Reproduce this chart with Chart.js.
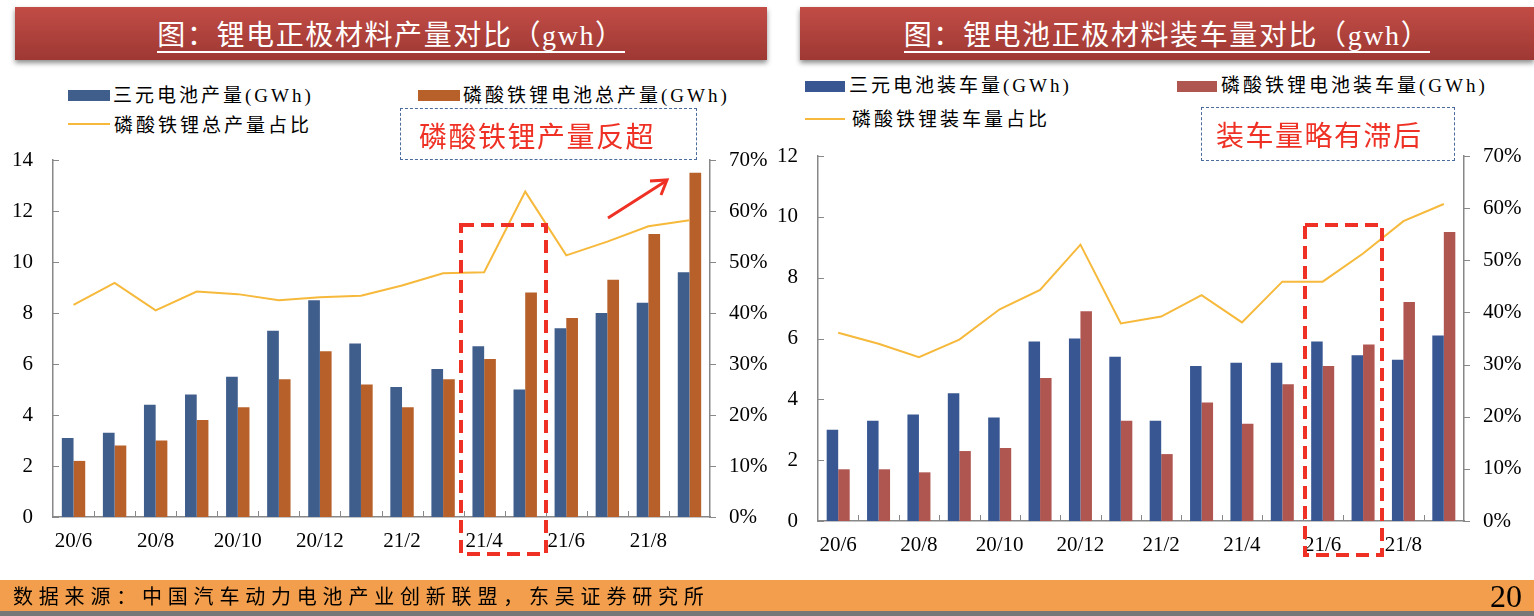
<!DOCTYPE html>
<html>
<head>
<meta charset="utf-8">
<script src="https://cdn.jsdelivr.net/npm/chart.js@4.4.0/dist/chart.umd.min.js"></script>
<style>
  html, body { margin: 0; padding: 0; background: #fff; }
  body { width: 1534px; height: 616px; position: relative; overflow: hidden;
         font-family: "Liberation Serif", "Noto Sans CJK SC", serif; }
  .banner { position: absolute; top: 7px; height: 53px;
            background: linear-gradient(#c24c46, #9e3833);
            box-shadow: 0 3px 5px rgba(0,0,0,0.45); }
  .banner span { position: absolute; left: 0; right: 0; top: 14px; text-align: center;
                 color: #fff; font-size: 28px; line-height: 29px; letter-spacing: 1.6px; }
  .banner span i { font-style: normal; border-bottom: 2px solid #fff; padding-bottom: 0px; }
  .lg { position: absolute; font-size: 19px; letter-spacing: 3px; color: #000; line-height: 20px; white-space: nowrap; }
  .sw { position: absolute; height: 11px; width: 42px; }
  .ln { position: absolute; height: 2px; width: 42px; background: #f6b93b; }
  .note { position: absolute; border: 1.5px dashed #4a6b9b; color: #ee3124;
          font-size: 28px; letter-spacing: 1.5px; line-height: 52px; box-sizing: border-box;
          font-family: "Noto Sans CJK SC", sans-serif; }
  canvas { position: absolute; }
  #footer { position: absolute; left: 0; top: 580px; width: 1534px; height: 31px; background: #f29e4c; }
  #footer2 { position: absolute; left: 0; top: 611px; width: 1534px; height: 5px; background: #777; }
  #src { position: absolute; left: 13px; top: 584px; font-size: 20px; letter-spacing: 5.8px;
         font-family: "Noto Sans CJK SC", sans-serif; line-height: 24px; }
  #page { position: absolute; right: 12px; top: 578px; font-size: 32px; line-height: 36px; }
</style>
</head>
<body>

<div class="banner" style="left:15px; width:752px;"><span><i>图：锂电正极材料产量对比（gwh）</i></span></div>
<div class="banner" style="left:800px; width:734px;"><span><i>图：锂电池正极材料装车量对比（gwh）</i></span></div>

<!-- 左图图例 -->
<div class="sw" style="left:68px; top:90px; background:#405e8c;"></div>
<div class="lg" style="left:113px; top:86px;">三元电池产量(GWh)</div>
<div class="sw" style="left:418px; top:90px; background:#b8602a;"></div>
<div class="lg" style="left:463px; top:86px;">磷酸铁锂电池总产量(GWh)</div>
<div class="ln" style="left:68px; top:123px;"></div>
<div class="lg" style="left:114px; top:116px;">磷酸铁锂总产量占比</div>

<!-- 右图图例 -->
<div class="sw" style="left:805px; top:81px; width:40px; background:#375692;"></div>
<div class="lg" style="left:849px; top:76px;">三元电池装车量(GWh)</div>
<div class="sw" style="left:1177px; top:81px; width:40px; background:#b05650;"></div>
<div class="lg" style="left:1221px; top:76px;">磷酸铁锂电池装车量(GWh)</div>
<div class="ln" style="left:805px; top:118px; width:40px;"></div>
<div class="lg" style="left:852px; top:110px;">磷酸铁锂装车量占比</div>

<canvas id="left" width="770" height="420" style="left:0; top:140px;"></canvas>
<canvas id="right" width="764" height="420" style="left:770px; top:140px;"></canvas>

<div class="note" style="left:400px; top:108px; width:297px; height:52px; padding-left:18px;">磷酸铁锂产量反超</div>
<div class="note" style="left:1201px; top:107px; width:254px; height:54px; padding-left:14px;">装车量略有滞后</div>

<svg width="1534" height="616" style="position:absolute; left:0; top:0; pointer-events:none;">
  <rect x="461" y="225" width="85" height="329" fill="none" stroke="#ee3124" stroke-width="4" stroke-dasharray="13 7"/>
  <rect x="1305" y="225" width="77" height="330" fill="none" stroke="#ee3124" stroke-width="4" stroke-dasharray="13 7"/>
  <line x1="608" y1="218" x2="666" y2="181" stroke="#ee3124" stroke-width="3"/>
  <polyline points="650,181 667,180 661,195" fill="none" stroke="#ee3124" stroke-width="3"/>
</svg>

<div id="footer"></div>
<div id="footer2"></div>
<div id="src">数据来源：中国汽车动力电池产业创新联盟，东吴证券研究所</div>
<div id="page">20</div>

<script>
// 月份
const categories = ['20/6', '20/7', '20/8', '20/9', '20/10', '20/11', '20/12', '21/1',
                    '21/2', '21/3', '21/4', '21/5', '21/6', '21/7', '21/8', '21/9'];

// 左图：产量 (GWh) 和占比 (%)
const prodNCM = [3.1, 3.3, 4.4, 4.8, 5.5, 7.3, 8.5, 6.8, 5.1, 5.8, 6.7, 5.0, 7.4, 8.0, 8.4, 9.6];
const prodLFP = [2.2, 2.8, 3.0, 3.8, 4.3, 5.4, 6.5, 5.2, 4.3, 5.4, 6.2, 8.8, 7.8, 9.3, 11.1, 13.5];
const prodLFPShare = [41.6, 45.9, 40.5, 44.2, 43.7, 42.5, 43.1, 43.4, 45.4, 47.8, 48.0, 63.8, 51.3, 54.0, 57.0, 58.2];

// 右图：装车量 (GWh) 和占比 (%)
const instNCM = [3.0, 3.3, 3.5, 4.2, 3.4, 5.9, 6.0, 5.4, 3.3, 5.1, 5.2, 5.2, 5.9, 5.45, 5.3, 6.1];
const instLFP = [1.7, 1.7, 1.6, 2.3, 2.4, 4.7, 6.9, 3.3, 2.2, 3.9, 3.2, 4.5, 5.1, 5.8, 7.2, 9.5];
const instLFPShare = [36.1, 34.0, 31.4, 34.8, 40.6, 44.3, 53.0, 37.9, 39.2, 43.3, 38.1, 45.9, 45.9, 51.3, 57.5, 60.8];

// 坐标轴刻度
const leftAxisMax = [14, 12];
const leftAxisStep = 2;
const pctAxisMax = 70;
const pctAxisStep = 10;

const tickFont = { family: 'Liberation Serif', size: 21 };
const axisColor = '#888';

// 刻度线：左轴和X轴朝内，右轴朝外
const tickMarks = {
  id: 'tickMarks',
  afterDraw(chart) {
    const { ctx, chartArea: a, scales } = chart;
    ctx.save();
    ctx.strokeStyle = axisColor;
    ctx.lineWidth = 1;
    ctx.beginPath();
    const x = scales.x;
    const step = x.getPixelForValue(1) - x.getPixelForValue(0);
    for (let i = 1; i < categories.length; i++) {
      const px = Math.round(x.getPixelForValue(i) - step / 2) + 0.5;
      ctx.moveTo(px, a.bottom);
      ctx.lineTo(px, a.bottom - 6);
    }
    scales.y.ticks.forEach(t => {
      const py = Math.round(scales.y.getPixelForValue(t.value)) + 0.5;
      ctx.moveTo(a.left, py);
      ctx.lineTo(a.left + 6, py);
    });
    scales.y1.ticks.forEach(t => {
      const py = Math.round(scales.y1.getPixelForValue(t.value)) + 0.5;
      ctx.moveTo(a.right, py);
      ctx.lineTo(a.right + 6, py);
    });
    ctx.stroke();
    ctx.restore();
  }
};

// 固定坐标轴尺寸，去掉标签带来的额外留白
function fixV(w) {
  return s => { s.width = w; s.paddingTop = 0; s.paddingBottom = 0; };
}

function makeChart(id, bars1, bars2, share, colors, yMax, sizes) {
  const ctx = document.getElementById(id).getContext('2d');
  return new Chart(ctx, {
    type: 'bar',
    data: {
      labels: categories,
      datasets: [
        {
          type: 'line',
          data: share,
          yAxisID: 'y1',
          borderColor: '#f6b93b',
          borderWidth: 2,
          pointRadius: 0,
          tension: 0,
          order: 0
        },
        {
          data: bars1,
          yAxisID: 'y',
          backgroundColor: colors[0],
          categoryPercentage: 0.57,
          barPercentage: 1.0,
          order: 1
        },
        {
          data: bars2,
          yAxisID: 'y',
          backgroundColor: colors[1],
          categoryPercentage: 0.57,
          barPercentage: 1.0,
          order: 1
        }
      ]
    },
    options: {
      responsive: false,
      animation: false,
      devicePixelRatio: 1,
      layout: { padding: { top: sizes.top, left: 0, right: 0, bottom: 0 } },
      plugins: { legend: { display: false }, tooltip: { enabled: false } },
      scales: {
        x: {
          grid: { display: false, drawTicks: false },
          border: { color: axisColor, width: 1.5 },
          ticks: {
            autoSkip: false,
            maxRotation: 0,
            padding: 12,
            color: '#000',
            font: tickFont,
            callback: (v, i) => (i % 2 === 0 ? categories[i] : '')
          },
          afterFit: s => { s.height = sizes.bottom; s.paddingLeft = 0; s.paddingRight = 0; }
        },
        y: {
          position: 'left',
          min: 0,
          max: yMax,
          grid: { display: false, drawTicks: false },
          border: { color: axisColor, width: 1.5 },
          ticks: { stepSize: leftAxisStep, padding: 20, color: '#000', font: tickFont },
          afterFit: fixV(sizes.left)
        },
        y1: {
          position: 'right',
          min: 0,
          max: pctAxisMax,
          grid: { display: false, drawTicks: false },
          border: { color: axisColor, width: 1.5 },
          ticks: { stepSize: pctAxisStep, padding: 19, color: '#000', font: tickFont,
                   callback: v => v + '%' },
          afterFit: fixV(sizes.right)
        }
      }
    },
    plugins: [tickMarks]
  });
}

makeChart('left', prodNCM, prodLFP, prodLFPShare, ['#405e8c', '#b8602a'], leftAxisMax[0],
          { top: 20, bottom: 43, left: 53, right: 60 });
makeChart('right', instNCM, instLFP, instLFPShare, ['#375692', '#b05650'], leftAxisMax[1],
          { top: 16, bottom: 39, left: 48, right: 70 });
</script>
</body>
</html>
